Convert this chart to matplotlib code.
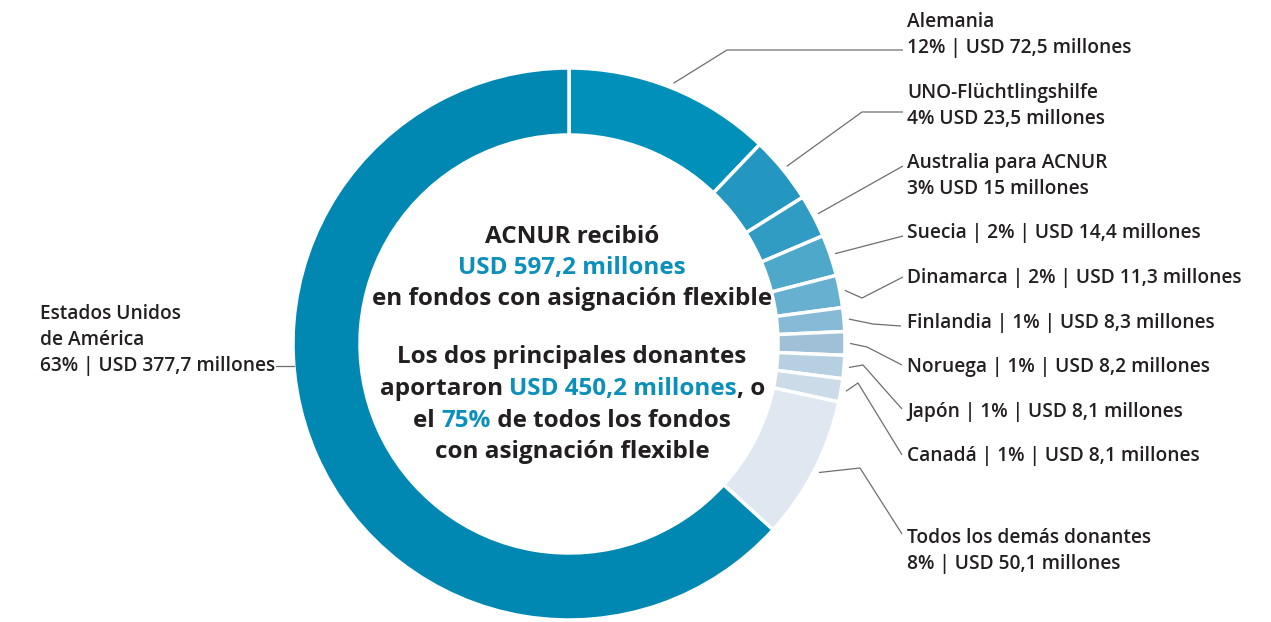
import matplotlib
matplotlib.use("Agg")
import matplotlib.pyplot as plt
import numpy as np

# ---------------- data ----------------
donors = ["Alemania", "UNO-Flüchtlingshilfe", "Australia para ACNUR", "Suecia",
          "Dinamarca", "Finlandia", "Noruega", "Japón", "Canadá",
          "Todos los demás donantes", "Estados Unidos de América"]
values = [72.5, 23.5, 15.0, 14.4, 11.3, 8.3, 8.2, 8.1, 8.1, 50.1, 377.7]
percents = [12, 4, 3, 2, 2, 1, 1, 1, 1, 8, 63]
colors = ["#0090ba", "#2397c0", "#309cc3", "#4ea8ca", "#68b0d0", "#87bad7",
          "#9fc0d7", "#b6d0e1", "#cbdce8", "#dfe8f1", "#0088b3"]

# label text lines for each donor
label_lines = [
    ["Alemania", "{p}% | USD {v} millones"],
    ["UNO-Flüchtlingshilfe", "{p}% USD {v} millones"],
    ["Australia para ACNUR", "{p}% USD {v} millones"],
    ["Suecia | {p}% | USD {v} millones"],
    ["Dinamarca | {p}% | USD {v} millones"],
    ["Finlandia | {p}% | USD {v} millones"],
    ["Noruega | {p}% | USD {v} millones"],
    ["Japón | {p}% | USD {v} millones"],
    ["Canadá | {p}% | USD {v} millones"],
    ["Todos los demás donantes", "{p}% | USD {v} millones"],
    ["Estados Unidos", "de América", "{p}% | USD {v} millones"],
]

# ---------------- layout (pixels) ----------------
W_PX, H_PX = 1271, 622
CX, CY = 569, 344
R, RING = 276, 67
DARK = "#231f20"
BLUE = "#0b8fbb"
LINE = "#6d6e71"
FONT = "Open Sans"

label_x = [907] * 10 + [40]
label_y = [22, 93, 163, 233, 278, 323, 367, 412, 456, 538, 314]
elbows = [
    [(727, 50), (903, 50)],
    [(862, 112), (903, 112)],
    [(903, 166)],
    [(903, 236)],
    [(862, 298), (903, 277)],
    [(873, 324), (901, 326)],
    [(867, 347), (902, 365)],
    [(863, 365), (902, 409)],
    [(858, 383), (902, 455)],
    [(860, 468), (902, 534)],
    None,
]
LINE_STEP = 26


def Y(y):
    return H_PX - y


fig = plt.figure(figsize=(W_PX / 100, H_PX / 100), dpi=100)
ax = fig.add_axes([0, 0, 1, 1])

wedges, _ = ax.pie(values, colors=colors, startangle=90, counterclock=False,
                   center=(CX, Y(CY)), radius=R,
                   wedgeprops=dict(width=RING, edgecolor="white", linewidth=2.5))
ax.set_xlim(0, W_PX)
ax.set_ylim(0, H_PX)
ax.set_aspect("equal")
ax.axis("off")
renderer = fig.canvas.get_renderer()


def fmt(v):
    s = f"{v:g}"
    return s.replace(".", ",")


# labels and connectors
for i, (w, lines) in enumerate(zip(wedges, label_lines)):
    last = None
    for k, ln in enumerate(lines):
        txt = ln.format(p=percents[i], v=fmt(values[i]))
        last = ax.text(label_x[i], Y(label_y[i] + k * LINE_STEP), txt, ha="left",
                       va="center", fontsize=13.8, color=DARK, family=FONT,
                       fontweight="semibold")
    if elbows[i] is not None:
        mid = np.deg2rad((w.theta1 + w.theta2) / 2)
        sx = CX + (R + 5) * np.cos(mid)
        sy = Y(CY) + (R + 5) * np.sin(mid)
        xs = [sx] + [p[0] for p in elbows[i]]
        ys = [sy] + [Y(p[1]) for p in elbows[i]]
        ax.plot(xs, ys, color=LINE, lw=0.9, solid_capstyle="butt")
    else:
        # horizontal connector for the left label, from text end to ring edge
        ly = label_y[i] + (len(lines) - 1) * LINE_STEP
        bb = last.get_window_extent(renderer)
        dy = ly - CY
        edge_x = CX - np.sqrt(R ** 2 - dy ** 2)
        ax.plot([bb.x1 + 1, edge_x], [Y(ly), Y(ly)], color=LINE, lw=0.9)

# center text
total = sum(values)
top2 = values[-1] + values[0]
share = round(top2 / total * 100)
center_lines = [
    (237, [("ACNUR recibió", DARK)]),
    (268, [(f"USD {fmt(round(total, 1))} millones", BLUE)]),
    (299, [("en fondos con asignación flexible", DARK)]),
    (357, [("Los dos principales donantes", DARK)]),
    (389, [("aportaron ", DARK), (f"USD {fmt(round(top2, 1))} millones", BLUE), (", o", DARK)]),
    (421, [("el ", DARK), (f"{share}%", BLUE), (" de todos los fondos", DARK)]),
    (452, [("con asignación flexible", DARK)]),
]
CTX = 572
ckw = dict(fontsize=17.5, family=FONT, fontweight="bold", va="center", ha="left")


def width_of(s):
    t = ax.text(0, 0, s + "x", **ckw)
    t2 = ax.text(0, 0, "x", **ckw)
    w1 = t.get_window_extent(renderer).width
    w2 = t2.get_window_extent(renderer).width
    t.remove()
    t2.remove()
    return w1 - w2


for y, segs in center_lines:
    full = "".join(s for s, _ in segs)
    tot = width_of(full)
    x0 = CTX - tot / 2
    prefix = ""
    for s, c in segs:
        off = width_of(prefix) if prefix else 0
        ax.text(x0 + off, Y(y), s, color=c, **ckw)
        prefix += s

fig.savefig("out.png", dpi=100)
